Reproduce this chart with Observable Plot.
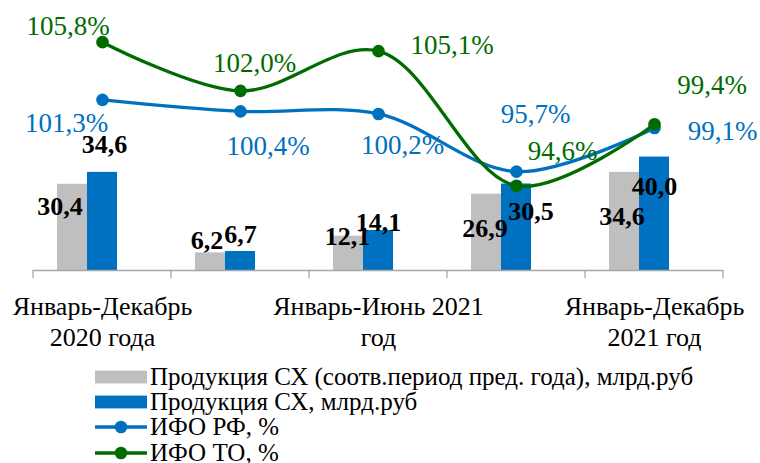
<!DOCTYPE html>
<html>
<head>
<meta charset="utf-8">
<script src="https://cdn.jsdelivr.net/npm/d3@7"></script>
<script src="https://cdn.jsdelivr.net/npm/@observablehq/plot@0.6"></script>
<style>
  html, body { margin: 0; padding: 0; background: #fff; }
  #wrap { position: relative; width: 760px; height: 463px; overflow: hidden; font-family: "Liberation Serif", Tinos, "Times New Roman", "DejaVu Serif", serif; }
  #wrap > .layer { position: absolute; left: 0; top: 0; }
  #wrap svg, #wrap svg text { font-family: "Liberation Serif", Tinos, "Times New Roman", "DejaVu Serif", serif !important; }
  #legend { position: absolute; left: 95px; top: 364px; font-size: 25px; color: #000; }
  .row { display: flex; align-items: center; height: 25.4px; white-space: nowrap; }
  .row svg { margin-right: 3px; flex: none; }
</style>
</head>
<body>
<div id="wrap">
  <div class="layer" id="bars"></div>
  <div class="layer" id="lines"></div>
  <div id="legend"></div>
</div>
<script>
// ---- data ----
const categories = [
  "Январь-Декабрь 2020 года",
  "Январь-Март 2021 года",
  "Январь-Июнь 2021 год",
  "Январь-Сентябрь 2021 года",
  "Январь-Декабрь 2021 год"
];
const tickLabels = [
  "Январь-Декабрь\n2020 года",
  "",
  "Январь-Июнь 2021\nгод",
  "",
  "Январь-Декабрь\n2021 год"
];
const prodPrev = [30.4, 6.2, 12.1, 26.9, 34.6];
const prodCur  = [34.6, 6.7, 14.1, 30.5, 40.0];
const ifoRF = [101.3, 100.4, 100.2, 95.7, 99.1];
const ifoTO = [105.8, 102.0, 105.1, 94.6, 99.4];
const legendLabels = [
  "Продукция СХ (соотв.период пред. года), млрд.руб",
  "Продукция СХ, млрд.руб",
  "ИФО РФ, %",
  "ИФО ТО, %"
];

// ---- style / layout ----
const GRAY = "#BFBFBF", BLUE = "#0070C0", GREEN = "#006C00", AXIS = "#A6A6A6";
const W = 760, H = 360, ML = 31, MR = 35.7, MT = 0, MB = 90;
const FONT = "'Liberation Serif', Tinos, 'Times New Roman', 'DejaVu Serif', serif";
// label offsets (px): [dx, baseline dy]
const prevLabelOff = [[-12.5, 31], [-3.5, -4.4], [-1, 9.3], [-1.5, 43], [-2.5, 53]];
const curLabelOff  = [[2, -19], [0, -8], [0, 0], [14.5, 36.5], [0, 38.4]];
const rfLabelOff   = [[-36, 32.4], [27.5, 44], [24, 40], [19, -49], [68, 11.6]];
const toLabelOff   = [[-34.5, -7], [14, -19], [73.5, 2.7], [46, -26], [57.7, -30.7]];

const fmt = v => v.toFixed(1).replace(".", ",");
const seriesKeys = ["prev", "cur", "ghost"];

const barData = categories.flatMap((c, i) => [
  {cat: c, s: "prev", v: prodPrev[i], i},
  {cat: c, s: "cur", v: prodCur[i], i}
]);

const barLabelMarks = barData.map(d => {
  const off = d.s === "prev" ? prevLabelOff[d.i] : curLabelOff[d.i];
  return Plot.text([d], {
    fx: "cat", x: "s", y: "v", text: d => fmt(d.v),
    dx: off[0], dy: off[1], lineAnchor: "bottom",
    fontSize: 26, fontWeight: "bold", fill: "#000", fontFamily: FONT
  });
});

const axisMarks = [];
if (Plot.axisFx) {
  axisMarks.push(Plot.axisFx({
    anchor: "bottom", tickSize: 0, tickPadding: 21.5, lineHeight: 1.22,
    fontSize: 26, fill: "#000", label: null, fontFamily: FONT,
    tickFormat: d => tickLabels[categories.indexOf(d)]
  }));
}

const plotA = Plot.plot({
  width: W, height: H, marginLeft: ML, marginRight: MR, marginTop: MT, marginBottom: MB,
  style: {fontFamily: FONT, fontSize: "26px", background: "transparent", overflow: "visible", color: "#000"},
  fx: {domain: categories, padding: 0, axis: Plot.axisFx ? null : "bottom", tickSize: 0, tickPadding: 21.5,
       tickFormat: d => tickLabels[categories.indexOf(d)], label: null},
  x: {domain: seriesKeys, paddingInner: 0, paddingOuter: 0.75, axis: null},
  y: {domain: [0, 95.2], axis: null},
  color: {domain: ["prev", "cur"], range: [GRAY, BLUE]},
  marks: [
    Plot.barY(barData, {fx: "cat", x: "s", y: "v", fill: "s"}),
    Plot.ruleY([0], {stroke: AXIS, strokeWidth: 1.3}),
    ...barLabelMarks,
    ...axisMarks
  ]
});
document.getElementById("bars").appendChild(plotA);

// ---- lines ----
const rfData = categories.map((c, i) => ({cat: c, v: ifoRF[i], i}));
const toData = categories.map((c, i) => ({cat: c, v: ifoTO[i], i}));
const lineLabels = (data, offs, color) => data.map(d => Plot.text([d], {
  x: "cat", y: "v", text: d => fmt(d.v) + "%",
  dx: offs[d.i][0], dy: offs[d.i][1], lineAnchor: "bottom",
  fontSize: 27, fill: color, fontFamily: FONT
}));

const plotB = Plot.plot({
  width: W, height: H, marginLeft: ML, marginRight: MR, marginTop: MT, marginBottom: MB,
  style: {fontFamily: FONT, fontSize: "26px", background: "transparent", overflow: "visible"},
  x: {type: "point", domain: categories, padding: 0.5, axis: null},
  y: {domain: [87.99, 109.05], axis: null},
  marks: [
    Plot.line(rfData, {x: "cat", y: "v", stroke: BLUE, strokeWidth: 3.3, curve: "catmull-rom"}),
    Plot.dot(rfData, {x: "cat", y: "v", r: 6.3, fill: BLUE}),
    Plot.line(toData, {x: "cat", y: "v", stroke: GREEN, strokeWidth: 3.3, curve: "catmull-rom"}),
    Plot.dot(toData, {x: "cat", y: "v", r: 6.3, fill: GREEN}),
    ...lineLabels(rfData, rfLabelOff, BLUE),
    ...lineLabels(toData, toLabelOff, GREEN)
  ]
});
document.getElementById("lines").appendChild(plotB);

// category boundary ticks from the x scale
(function () {
  const xs = plotB.scale("x");
  const ys = plotB.scale("y");
  if (!xs || !xs.apply) return;
  const pos = categories.map(c => xs.apply(c));
  const step = pos[1] - pos[0];
  const bounds = pos.map(p => p - step / 2).concat([pos[pos.length - 1] + step / 2]);
  const y0 = ys.apply(ys.domain[0]);
  d3.select(plotB).append("g")
    .selectAll("line").data(bounds).join("line")
    .attr("x1", d => d).attr("x2", d => d)
    .attr("y1", y0).attr("y2", y0 + 8)
    .attr("stroke", AXIS).attr("stroke-width", 1.3);
})();

// ---- legend ----
const legendKinds = [
  {type: "rect", color: GRAY},
  {type: "rect", color: BLUE},
  {type: "line", color: BLUE},
  {type: "line", color: GREEN}
];
const legend = d3.select("#legend");
legendLabels.forEach((lab, i) => {
  const row = legend.append("div").attr("class", "row");
  const s = row.append("svg").attr("width", 52).attr("height", 16);
  const k = legendKinds[i];
  if (k.type === "rect") {
    s.append("rect").attr("x", 0).attr("y", 1.6).attr("width", 52).attr("height", 12.8).attr("fill", k.color);
  } else {
    s.append("line").attr("x1", 0).attr("x2", 52).attr("y1", 8).attr("y2", 8).attr("stroke", k.color).attr("stroke-width", 3.3);
    s.append("circle").attr("cx", 26).attr("cy", 8).attr("r", 6.3).attr("fill", k.color);
  }
  row.append("span").text(lab);
});
</script>
</body>
</html>
